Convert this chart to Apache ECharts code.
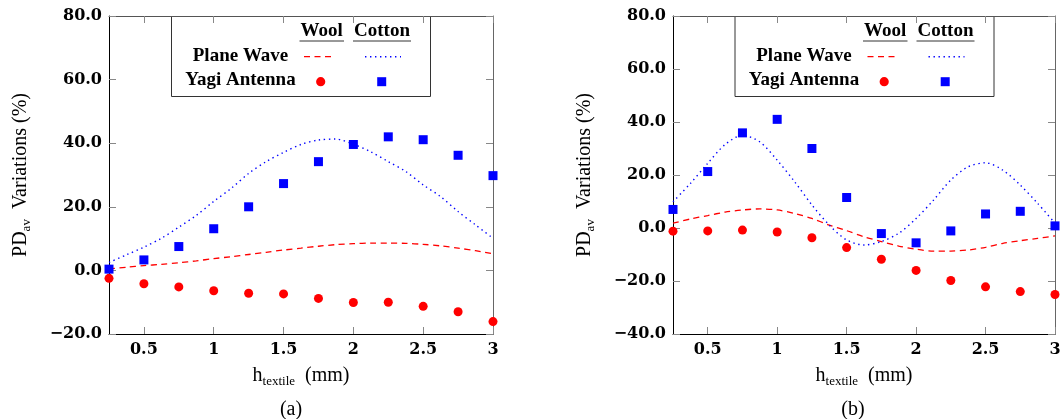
<!DOCTYPE html>
<html>
<head>
<meta charset="utf-8">
<script src="https://cdn.jsdelivr.net/npm/echarts@6/dist/echarts.min.js"></script>
<style>
html,body{margin:0;padding:0;background:#fff;}
#chart{width:1064px;height:419px;}
</style>
</head>
<body>
<div id="chart"></div>
<script>
// ---- data ----
const xYagi = [0.25, 0.5, 0.75, 1, 1.25, 1.5, 1.75, 2, 2.25, 2.5, 2.75, 3];
const xCurve = [0.25, 0.375, 0.5, 0.625, 0.75, 0.875, 1, 1.125, 1.25, 1.375, 1.5, 1.625,
                1.75, 1.875, 2, 2.125, 2.25, 2.375, 2.5, 2.625, 2.75, 2.875, 3];
const xTicks = [0.5, 1, 1.5, 2, 2.5, 3];
const yTicksA = [-20, 0, 20, 40, 60, 80];
const yTicksB = [-40, -20, 0, 20, 40, 60, 80];

// (a)
const woolPlaneA = [0.5, 1.0, 1.5, 1.9, 2.4, 3.0, 3.7, 4.3, 5.0, 5.7, 6.4, 7.0,
                    7.6, 8.1, 8.4, 8.6, 8.6, 8.5, 8.2, 7.7, 7.0, 6.2, 5.2];
const cottonPlaneA = [2.5, 4.9, 7.3, 10.1, 13.6, 17.3, 21.7, 25.8, 30.5, 34.2, 37.1, 39.6,
                      41.0, 41.3, 39.7, 37.3, 34.2, 31.1, 26.9, 23.2, 18.5, 14.3, 10.1];
const woolYagiA = [-2.5, -4.2, -5.2, -6.4, -7.2, -7.4, -8.8, -10.1, -10.0, -11.3, -13.0, -16.1];
const cottonYagiA = [0.4, 3.3, 7.5, 13.1, 20.0, 27.3, 34.2, 39.6, 42.0, 41.1, 36.2, 29.8];

// (b)
const woolPlaneB = [1.8, 3.4, 4.7, 6.0, 6.8, 7.2, 6.8, 5.5, 3.6, 1.1, -1.0, -3.3,
                    -5.1, -6.8, -8.0, -8.7, -8.7, -8.3, -7.3, -5.8, -4.8, -3.9, -3.0];
const cottonPlaneB = [9.9, 16.8, 24.4, 31.5, 35.0, 32.5, 25.6, 17.5, 8.7, 1.1, -4.5, -6.4,
                      -5.1, -2.0, 3.6, 10.5, 18.1, 23.1, 24.6, 21.8, 16.2, 9.3, 1.8];
const woolYagiB = [-1.2, -1.1, -0.8, -1.5, -3.7, -7.4, -11.8, -16.0, -19.8, -22.2, -24.0, -25.1];
const cottonYagiB = [7.0, 21.3, 35.9, 41.0, 30.0, 11.5, -2.1, -5.6, -1.1, 5.3, 6.3, 0.8];

const legendRows = ['Plane Wave', 'Yagi Antenna'];
const legendCols = ['Wool', 'Cotton'];
const captions = ['(a)', '(b)'];

// ---- styling ----
const RED = '#ff0000', BLUE = '#0000ff';
const tickFont = {fontFamily: 'DejaVu Serif', fontWeight: 'bold', fontSize: 16, color: '#000'};
const nameFont = 'Liberation Serif';
const rich = {
  m: {fontFamily: nameFont, fontSize: 20, lineHeight: 20, verticalAlign: 'top', color: '#000'},
  s: {fontFamily: nameFont, fontSize: 13, lineHeight: 13, padding: [9, 0, 0, 0], verticalAlign: 'top', color: '#000'}
};
const fmtY = v => (v < 0 ? '\u2212' : '') + Math.abs(v).toFixed(1);
const pairs = (xs, ys) => xs.map((x, i) => [x, ys[i]]);

function axesFor(gi, yTicks) {
  const xs = [
    {type: 'value', gridIndex: gi, position: 'bottom', min: 0.25, max: 3,
     axisLine: {show: true, onZero: false, lineStyle: {color: '#000', width: 1}},
     axisTick: {show: true, inside: true, length: 7, customValues: xTicks, lineStyle: {color: '#888'}},
     axisLabel: {show: true, customValues: xTicks, margin: 8, ...tickFont, formatter: v => String(v)},
     splitLine: {show: false},
     name: '{m|h}{s|textile}{m|  (mm)}', nameLocation: 'middle', nameGap: 32,
     nameTextStyle: {rich: rich}},
    {type: 'value', gridIndex: gi, position: 'top', min: 0.25, max: 3,
     axisLine: {show: true, onZero: false, lineStyle: {color: '#555', width: 1}},
     axisTick: {show: true, inside: true, length: 7, customValues: xTicks, lineStyle: {color: '#888'}},
     axisLabel: {show: false}, splitLine: {show: false}}
  ];
  const ys = [
    {type: 'value', gridIndex: gi, position: 'left', min: yTicks[0], max: yTicks[yTicks.length - 1], interval: 20,
     axisLine: {show: true, onZero: false, lineStyle: {color: '#000', width: 1}},
     axisTick: {show: true, inside: true, length: 7, lineStyle: {color: '#888'}},
     axisLabel: {show: true, margin: 7, ...tickFont, formatter: fmtY},
     splitLine: {show: false},
     name: '{m|PD}{s|av}{m|  Variations (%)}', nameLocation: 'middle', nameGap: 78, nameRotate: 90,
     nameTextStyle: {rich: rich}},
    {type: 'value', gridIndex: gi, position: 'right', min: yTicks[0], max: yTicks[yTicks.length - 1], interval: 20,
     axisLine: {show: true, onZero: false, lineStyle: {color: '#666', width: 1}},
     axisTick: {show: true, inside: true, length: 7, lineStyle: {color: '#888'}},
     axisLabel: {show: false}, splitLine: {show: false}}
  ];
  return {xs, ys};
}

const A = axesFor(0, yTicksA), B = axesFor(1, yTicksB);

function seriesFor(gi, woolPlane, cottonPlane, woolYagi, cottonYagi) {
  const xi = gi * 2, yi = gi * 2;
  return [
    {type: 'line', name: 'Plane Wave Wool', xAxisIndex: xi, yAxisIndex: yi, data: pairs(xCurve, woolPlane),
     smooth: 0.3, showSymbol: false, symbol: 'none', lineStyle: {color: RED, width: 1.3, type: [6, 4.5]}, z: 2},
    {type: 'line', name: 'Plane Wave Cotton', xAxisIndex: xi, yAxisIndex: yi, data: pairs(xCurve, cottonPlane),
     smooth: 0.3, showSymbol: false, symbol: 'none', lineStyle: {color: BLUE, width: 1.4, type: [1.4, 3.6]}, z: 2},
    {type: 'scatter', name: 'Yagi Antenna Wool', xAxisIndex: xi, yAxisIndex: yi, data: pairs(xYagi, woolYagi),
     symbol: 'circle', symbolSize: 9, itemStyle: {color: RED, opacity: 1}, z: 3},
    {type: 'scatter', name: 'Yagi Antenna Cotton', xAxisIndex: xi, yAxisIndex: yi, data: pairs(xYagi, cottonYagi),
     symbol: 'rect', symbolSize: 9, itemStyle: {color: BLUE, opacity: 1}, z: 3}
  ];
}

function legendGraphic(dx) {
  const tf = {fontFamily: nameFont, fontWeight: 'bold', fontSize: 19, fill: '#000'};
  return {
    type: 'group', x: dx, y: 0, z: 100,
    children: [
      {type: 'rect', shape: {x: 171.5, y: 16.5, width: 259, height: 80},
       style: {fill: '#fff', stroke: '#333', lineWidth: 1}},
      {type: 'text', x: 321.7, y: 31.5, style: {...tf, text: legendCols[0], align: 'center', verticalAlign: 'middle'}},
      {type: 'text', x: 382, y: 31.5, style: {...tf, text: legendCols[1], align: 'center', verticalAlign: 'middle'}},
      {type: 'line', shape: {x1: 299.5, y1: 41, x2: 344, y2: 41}, style: {stroke: '#333', lineWidth: 1}},
      {type: 'line', shape: {x1: 353, y1: 41, x2: 411, y2: 41}, style: {stroke: '#333', lineWidth: 1}},
      {type: 'text', x: 240.5, y: 56, style: {...tf, text: legendRows[0], align: 'center', verticalAlign: 'middle'}},
      {type: 'text', x: 240.5, y: 80.5, style: {...tf, text: legendRows[1], align: 'center', verticalAlign: 'middle'}},
      {type: 'line', shape: {x1: 304, y1: 56.7, x2: 334, y2: 56.7},
       style: {stroke: RED, lineWidth: 1.3, lineDash: [6, 4.5]}},
      {type: 'line', shape: {x1: 365, y1: 56.7, x2: 401, y2: 56.7},
       style: {stroke: BLUE, lineWidth: 1.4, lineDash: [1.4, 3.6]}},
      {type: 'circle', shape: {cx: 320.7, cy: 81.7, r: 4.6}, style: {fill: RED}},
      {type: 'rect', shape: {x: 377.2, y: 77.2, width: 9, height: 9}, style: {fill: BLUE}}
    ]
  };
}

const chart = echarts.init(document.getElementById('chart'), null, {renderer: 'canvas'});
chart.setOption({
  backgroundColor: '#fff',
  animation: false,
  grid: [
    {left: 109, top: 16, width: 384, height: 318, containLabel: false},
    {left: 673, top: 16, width: 382, height: 318, containLabel: false}
  ],
  xAxis: [...A.xs, ...B.xs],
  yAxis: [...A.ys, ...B.ys],
  series: [
    ...seriesFor(0, woolPlaneA, cottonPlaneA, woolYagiA, cottonYagiA),
    ...seriesFor(1, woolPlaneB, cottonPlaneB, woolYagiB, cottonYagiB)
  ],
  graphic: [
    legendGraphic(0),
    legendGraphic(563.5),
    {type: 'text', x: 291, y: 410, style: {text: captions[0], fontFamily: nameFont, fontSize: 20, fill: '#000', align: 'center', verticalAlign: 'middle'}},
    {type: 'text', x: 853, y: 410, style: {text: captions[1], fontFamily: nameFont, fontSize: 20, fill: '#000', align: 'center', verticalAlign: 'middle'}}
  ]
});
</script>
</body>
</html>
